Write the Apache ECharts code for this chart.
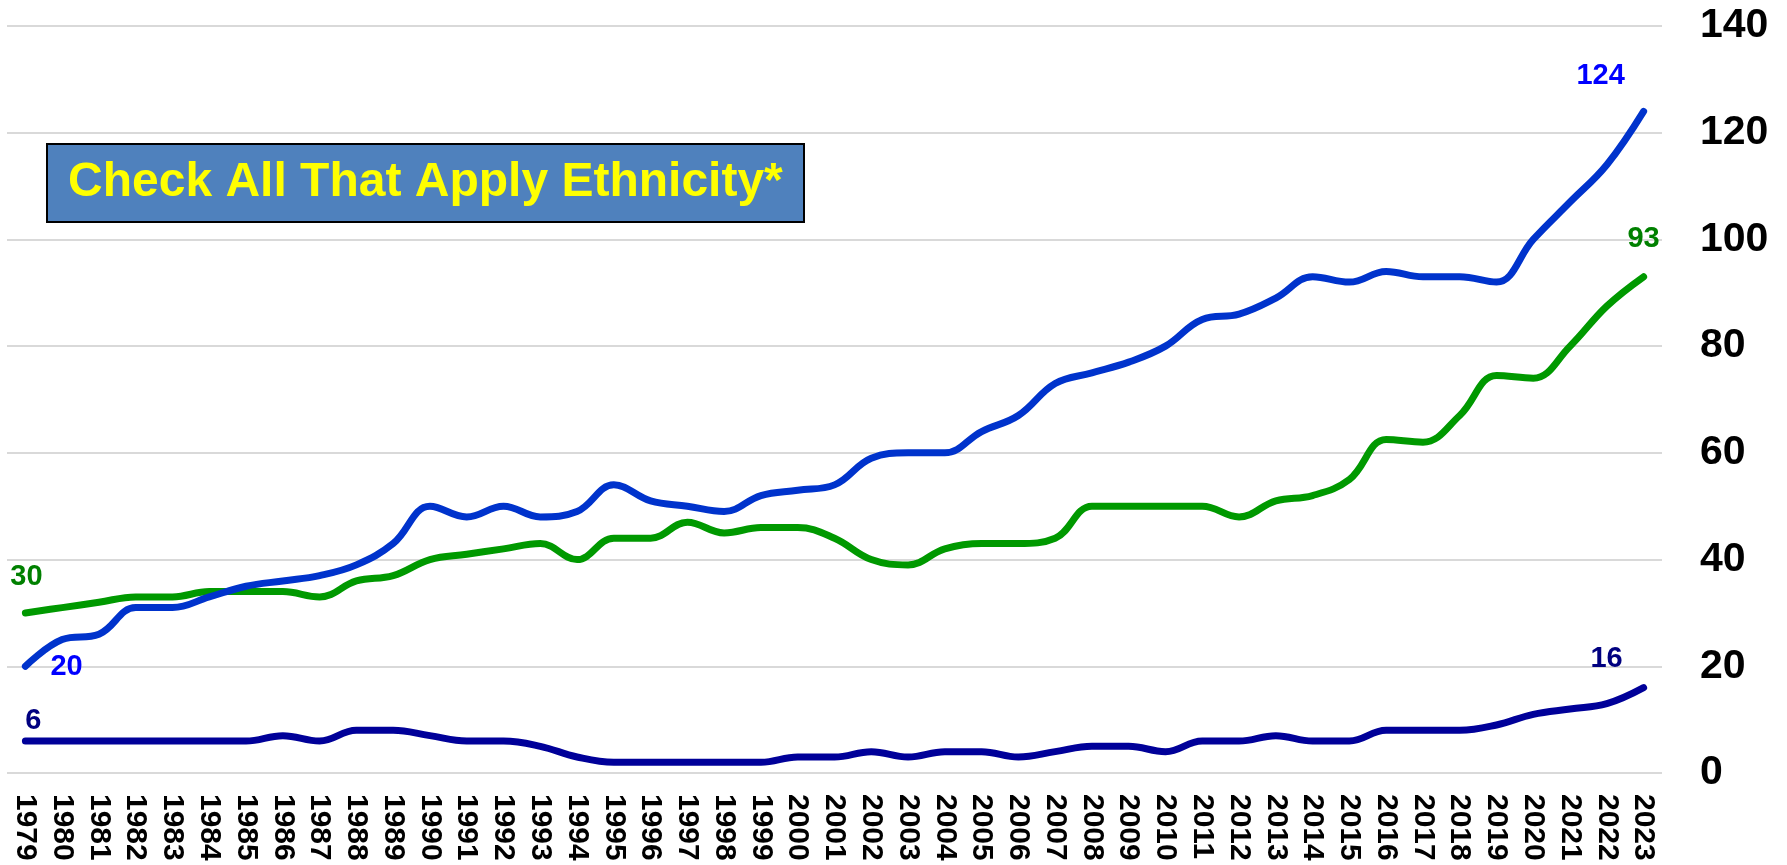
<!DOCTYPE html>
<html>
<head>
<meta charset="utf-8">
<script src="https://cdn.jsdelivr.net/npm/echarts@6/dist/echarts.min.js"></script>
<style>
  html, body { margin: 0; padding: 0; background: #fff; }
  #chart { width: 1787px; height: 865px; }
</style>
</head>
<body>
<div id="chart"></div>
<script>
// years on the x axis
const years = [
  '1979', '1980', '1981', '1982', '1983', '1984', '1985', '1986', '1987', '1988',
  '1989', '1990', '1991', '1992', '1993', '1994', '1995', '1996', '1997', '1998',
  '1999', '2000', '2001', '2002', '2003', '2004', '2005', '2006', '2007', '2008',
  '2009', '2010', '2011', '2012', '2013', '2014', '2015', '2016', '2017', '2018',
  '2019', '2020', '2021', '2022', '2023'
]

// blue line
const blueValues = [
  20, 25, 26, 31, 31, 33, 35, 36, 37, 39,
  43, 50, 48, 50, 48, 49, 54, 51, 50, 49,
  52, 53, 54, 59, 60, 60, 64, 67, 73, 75,
  77, 80, 85, 86, 89, 93, 92, 94, 93, 93,
  92, 100, 107, 114, 124
]

// green line
const greenValues = [
  30, 31, 32, 33, 33, 34, 34, 34, 33, 36,
  37, 40, 41, 42, 43, 40, 44, 44, 47, 45,
  46, 46, 44, 40, 39, 42, 43, 43, 44, 50,
  50, 50, 50, 48, 51, 52, 55, 62.5, 62, 67,
  74.5, 74, 80, 87.5, 93
]

// navy line
const navyValues = [
  6, 6, 6, 6, 6, 6, 6, 7, 6, 8,
  8, 7, 6, 6, 5, 3, 2, 2, 2, 2,
  2, 3, 3, 4, 3, 4, 4, 3, 4, 5,
  5, 4, 6, 6, 7, 6, 6, 8, 8, 8,
  9, 11, 12, 13, 16
]

const yTicks = [0, 20, 40, 60, 80, 100, 120, 140]
const titleText = 'Check All That Apply Ethnicity*'

const labelFont = {
  fontFamily: '"Liberation Sans", Arial, sans-serif',
  fontWeight: 'bold',
  fontSize: 29
}

// only the first and last points carry a value label
const withEndLabels = (values, color, first, last) =>
  values.map((v, i) => {
    if (i === 0) {
      return { value: v, label: Object.assign({ show: true, color }, labelFont, first) }
    }
    if (i === values.length - 1) {
      return { value: v, label: Object.assign({ show: true, color }, labelFont, last) }
    }
    return v
  })

const makeSeries = (name, values, lineColor, labelColor, first, last) => ({
  name,
  type: 'line',
  smooth: 0.4,
  showSymbol: true,
  showAllSymbol: true,
  symbol: 'circle',
  symbolSize: 0,
  lineStyle: { color: lineColor, width: 7, cap: 'round', join: 'round' },
  itemStyle: { color: lineColor },
  label: { show: false },
  emphasis: { disabled: true },
  animation: false,
  data: withEndLabels(values, labelColor, first, last)
})

const chart = echarts.init(document.getElementById('chart'))

chart.setOption({
  backgroundColor: '#ffffff',
  title: {
    text: titleText,
    left: 47,
    top: 144,
    padding: [15, 21],
    backgroundColor: '#4f81bd',
    borderColor: '#000000',
    borderWidth: 2,
    textStyle: {
      color: '#ffff00',
      fontFamily: '"Liberation Sans", Arial, sans-serif',
      fontWeight: 'bold',
      fontSize: 48,
      lineHeight: 48
    }
  },
  grid: {
    left: 7,
    right: 125,
    top: 26,
    bottom: 92,
    containLabel: false
  },
  xAxis: {
    type: 'category',
    data: years,
    boundaryGap: true,
    axisLine: { show: false },
    axisTick: { show: false },
    axisLabel: {
      interval: 0,
      rotate: -90,
      margin: 21,
      color: '#000000',
      fontFamily: '"Liberation Sans", Arial, sans-serif',
      fontWeight: 'bold',
      fontSize: 30
    },
    splitLine: { show: false }
  },
  yAxis: {
    type: 'value',
    position: 'right',
    min: yTicks[0],
    max: yTicks[yTicks.length - 1],
    interval: 20,
    axisLine: { show: false },
    axisTick: { show: false },
    axisLabel: {
      margin: 38,
      align: 'left',
      color: '#000000',
      fontFamily: '"Liberation Sans", Arial, sans-serif',
      fontWeight: 'bold',
      fontSize: 41
    },
    splitLine: { lineStyle: { color: '#d9d9d9', width: 2 } }
  },
  series: [
    makeSeries('Navy', navyValues, '#000099', '#000080',
      { position: 'top', distance: 5, offset: [8, 0] },
      { position: 'top', distance: 14, offset: [-37, 0] }),
    makeSeries('Green', greenValues, '#009900', '#008000',
      { position: 'top', distance: 21, offset: [1, 0] },
      { position: 'top', distance: 23, offset: [0, 0] }),
    makeSeries('Blue', blueValues, '#0033cc', '#0000ff',
      { position: 'right', distance: 25, offset: [0, 1] },
      { position: 'top', distance: 21, offset: [-43, 0] })
  ]
})
</script>
</body>
</html>
